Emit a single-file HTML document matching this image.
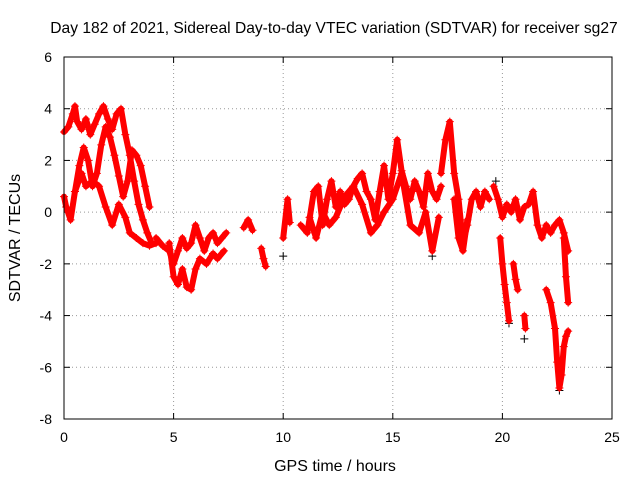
<!DOCTYPE html>
<html><head><meta charset="utf-8"><style>
body{margin:0;background:#fff;}
svg{font-family:"Liberation Sans",sans-serif;}
</style></head><body>
<svg id="chart" width="640" height="480" xmlns="http://www.w3.org/2000/svg">
<rect width="640" height="480" fill="#fff"/>
<text x="334" y="33" font-size="15.6" text-anchor="middle">Day 182 of 2021, Sidereal Day-to-day VTEC variation (SDTVAR) for receiver sg27</text>
<text x="335" y="471" font-size="16" text-anchor="middle">GPS time / hours</text>
<text x="20" y="238" font-size="16" text-anchor="middle" transform="rotate(-90 20 238)">SDTVAR / TECUs</text>
<g id="grid"></g><g id="marks"></g>
<rect x="64" y="57" width="548" height="362" fill="none" stroke="#000" stroke-width="1"/>
</svg>
<script>
const xTicks=[0,5,10,15,20,25];
const yTicks=[6,4,2,0,-2,-4,-6,-8];
// tracks: times / values
const tTimes=[
[0,0.2,0.4,0.5,0.6,0.8,1.0,1.2,1.4,1.6,1.8,2.0,2.2,2.4,2.6,2.8,3.0,3.2,3.4,3.6,3.8,4.0],
[0,0.1,0.3,0.5,0.7,0.9,1.1,1.3,1.5,1.7,1.9,2.1,2.3,2.5,2.7,2.9,3.1,3.3,3.5,3.7,3.9],
[0.5,0.8,1.0,1.3,1.6,1.9,2.2,2.5,2.8,3.0,3.3,3.6,3.9,4.2],
[4.2,4.5,4.8,5.0,5.2,5.4,5.6,5.8,6.0,6.2,6.4,6.6,6.8,7.0,7.2,7.4],
[4.8,5.0,5.2,5.4,5.6,5.8,6.0,6.2,6.5,6.8,7.0,7.3],
[8.2,8.4,8.6],[9.0,9.1,9.2],[10.0,10.2,10.3],
[10.8,11.1,11.4,11.6,11.8,12.0,12.2,12.4,12.6,12.8,13.0,13.2,13.4,13.6,13.8,14.0,14.2,14.4,14.6,14.8,15.0,15.2,15.4,15.6,15.8,16.0,16.2,16.4,16.6,16.8,17.0,17.2],
[11.2,11.5,11.8,12.1,12.4,12.8,13.2,13.6,14.0,14.3,14.6,15.0,15.4,15.8,16.2,16.5,16.8,17.1],
[17.2,17.4,17.6,17.8,18.0,18.2,18.4,18.6,18.8,19.0,19.2,19.4],
[17.8,18.0,18.2,18.4],
[19.6,19.8,20.0,20.2,20.4,20.6,20.8,21.0,21.2,21.4,21.6,21.8,22.0,22.2,22.4,22.6,22.8,23.0],
[19.9,20.0,20.1,20.2,20.3],[20.5,20.6,20.7],[21.0,21.05],
[22.0,22.2,22.4,22.5,22.6,22.7,22.8,22.9,23.0],
[22.8,22.9,23.0]
];
const tValues=[
[3.1,3.3,3.8,4.1,3.5,3.2,3.6,3.0,3.4,3.8,4.1,3.6,3.2,3.8,4.0,3.0,2.2,1.2,0.3,-0.3,-0.8,-1.2],
[0.6,0.2,-0.3,0.8,1.8,2.5,2.0,1.0,1.5,2.6,3.3,2.9,2.2,1.4,0.6,1.2,2.4,2.2,1.8,1.0,0.2],
[0.8,1.5,1.0,1.2,1.0,0.2,-0.5,0.3,-0.2,-0.8,-1.0,-1.2,-1.3,-1.2],
[-1.0,-1.3,-1.5,-2.0,-1.5,-1.0,-1.4,-1.2,-0.5,-1.0,-1.5,-1.0,-0.8,-1.2,-1.0,-0.8],
[-1.2,-2.5,-2.8,-2.2,-2.9,-3.0,-2.2,-1.8,-2.0,-1.6,-1.8,-1.5],
[-0.6,-0.3,-0.7],[-1.4,-1.8,-2.1],[-1.0,0.5,-0.4],
[-0.5,-0.8,0.8,1.0,-0.5,0.5,1.2,0.2,0.8,0.3,0.5,1.0,1.3,1.5,0.8,0.5,-0.3,0.8,1.8,0.5,1.5,2.8,1.6,1.0,0.5,1.2,0.8,0.2,1.5,0.8,0.5,1.0],
[-0.2,-1.0,0.0,-0.5,-0.2,0.6,1.0,0.3,-0.8,-0.5,0.0,0.5,1.5,-0.5,-0.8,0.0,-1.5,-0.2],
[1.5,2.8,3.5,1.5,0.5,-1.2,-0.5,0.5,0.8,0.2,0.8,0.5],
[0.5,-1.0,-1.5,-0.3],
[1.0,0.5,-0.2,0.3,0.0,0.5,-0.3,0.2,0.3,0.8,-0.5,-1.0,-0.5,-0.8,-0.5,-0.3,-0.8,-1.5],
[-1.0,-2.0,-2.8,-3.5,-4.2],[-2.0,-2.6,-3.0],[-4.0,-4.5],
[-3.0,-3.5,-4.5,-5.8,-6.8,-6.3,-5.2,-4.8,-4.6],
[-1.0,-2.5,-3.5]
];
const blackTimes=[10.0,16.8,19.7,20.3,21.0,22.6];
const blackValues=[-1.7,-1.7,1.2,-4.3,-4.9,-6.9];

const NS="http://www.w3.org/2000/svg";
const X=t=>64+t*548/25;
const Y=v=>57+(6-v)*362/14;
const grid=document.getElementById('grid'),marks=document.getElementById('marks');
function mk(tag,attrs,parent){const e=document.createElementNS(NS,tag);for(const k in attrs)e.setAttribute(k,attrs[k]);parent.appendChild(e);return e;}
xTicks.forEach(t=>{
  const x=X(t);
  if(t>0&&t<25){const g=mk('line',{x1:x,x2:x,y1:57,y2:419,stroke:'#999','stroke-dasharray':'1,3'},grid);
  
  }
  mk('line',{x1:x,x2:x,y1:419,y2:413,stroke:'#000'},grid);
  mk('line',{x1:x,x2:x,y1:57,y2:63,stroke:'#000'},grid);
  const l=mk('text',{x:x,y:442,'font-size':14,'text-anchor':'middle'},grid);l.textContent=t;
  
  
});
yTicks.forEach(v=>{
  const y=Y(v);
  if(v<6&&v>-8){const g=mk('line',{x1:64,x2:612,y1:y,y2:y,stroke:'#999','stroke-dasharray':'1,3'},grid);
  
  }
  mk('line',{x1:64,x2:70,y1:y,y2:y,stroke:'#000'},grid);
  mk('line',{x1:606,x2:612,y1:y,y2:y,stroke:'#000'},grid);
  const l=mk('text',{x:52,y:y+5,'font-size':14,'text-anchor':'end'},grid);l.textContent=v;
  
  
});
function plus(t,v,c){
  const x=X(t),y=Y(v);
  const p=mk('path',{d:`M${x-4},${y}h8M${x},${y-4}v8`,stroke:c,'stroke-width':1},marks);
  
  
}
blackTimes.forEach((t,i)=>plus(t,blackValues[i],'#000'));
tTimes.forEach((ts,k)=>{
  const pts=ts.map((t,i)=>X(t)+','+Y(tValues[k][i])).join(' ');
  const pl=mk('polyline',{points:pts,fill:'none',stroke:'#f00','stroke-width':6,'stroke-linejoin':'round','stroke-linecap':'round'},marks);
  
  
  ts.forEach((t,i)=>plus(t,tValues[k][i],'#f00'));
});
</script>
</body></html>
